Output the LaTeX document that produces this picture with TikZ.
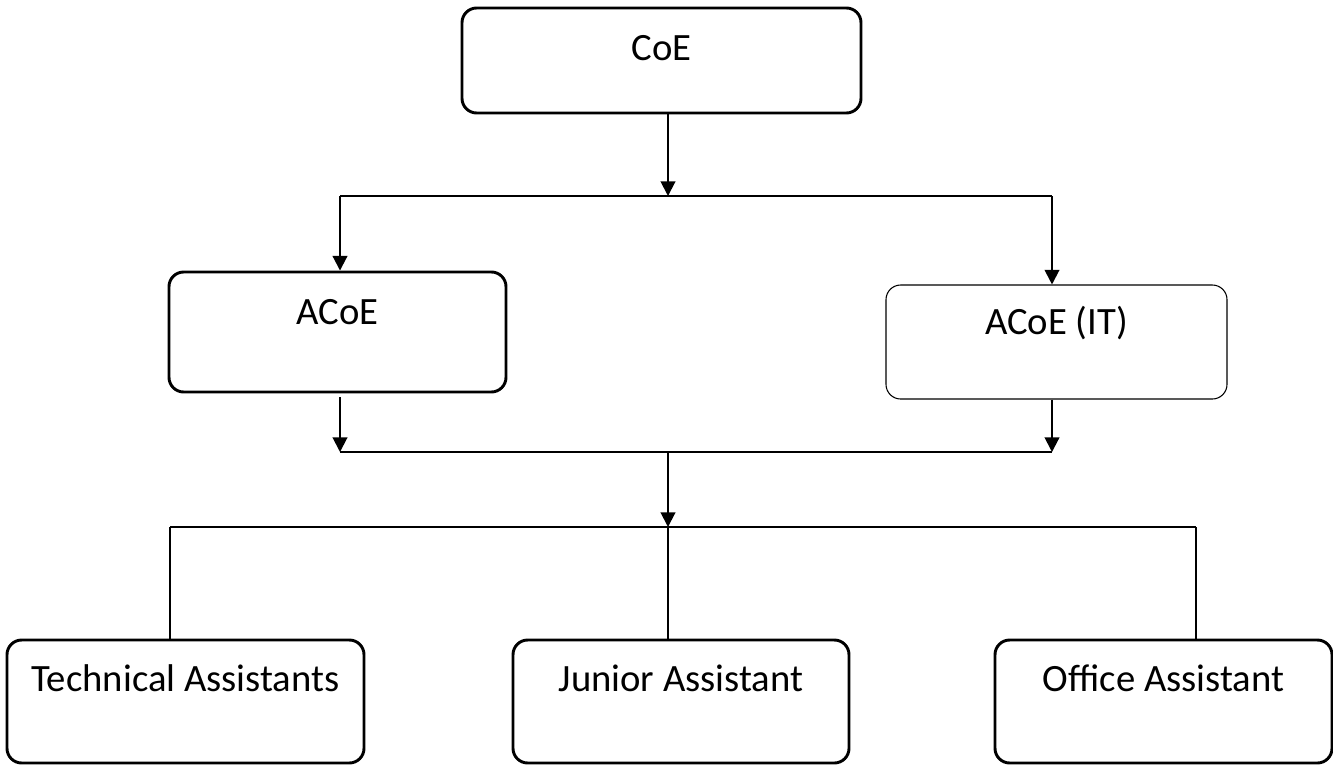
\documentclass[tikz,border=0pt]{standalone}
\usepackage{fontspec}
\setmainfont{Carlito}
\usetikzlibrary{arrows.meta}
\begin{document}
\begin{tikzpicture}[x=0.75pt,y=-0.75pt,
  box/.style={draw=black, line width=2.2pt, rounded corners=11pt, inner sep=0pt,
    font=\fontsize{29}{34}\selectfont, align=center},
  thinbox/.style={box, line width=0.8pt},
  toprow/.style={text height=39pt, text depth=39.75pt},
  midrow/.style={text height=39pt, text depth=51pt},
  itrow/.style={text height=36.75pt, text depth=48.75pt},
  botrow/.style={text height=38.25pt, text depth=54pt},
  arr/.style={line width=1.5pt, -{Triangle[width=11pt,length=11pt]}},
  ln/.style={line width=1.5pt},
  thinln/.style={line width=1.1pt}]
\useasboundingbox (0,0) rectangle (1333,764);

\node[box, toprow, minimum width=299.25pt] (coe) at (661.5,60.5) {CoE};
\node[box, midrow, minimum width=252.75pt] (acoe) at (337.5,332) {ACoE};
\node[thinbox, itrow, minimum width=255.75pt] (acoeit) at (1056.5,342) {ACoE (IT)};
\node[box, botrow, minimum width=267.75pt] (tech) at (185.5,701.5) {Technical Assistants};
\node[box, botrow, minimum width=252pt] (junior) at (681,701.5) {Junior Assistant};
\node[box, botrow, minimum width=252.75pt] (office) at (1163.5,701.5) {Office Assistant};

\coordinate (j1) at (668,196);
\coordinate (jl) at (340,196);
\coordinate (jr) at (1052,196);
\coordinate (k1) at (340,452);
\coordinate (k2) at (1052,452);
\coordinate (km) at (668,452);
\coordinate (b1) at (170,527);
\coordinate (bm) at (668,527);
\coordinate (b2) at (1196,527);
\coordinate (acoeout) at (340,397);

\draw[arr] (coe.south -| j1) -- (j1);
\draw[ln] (jl) -- (jr);
\draw[arr] (jl) -- (acoe.north -| jl);
\draw[arr] (jr) -- (acoeit.north -| jr);
\draw[arr] (acoeout) -- (k1);
\draw[arr] (acoeit.south -| k2) -- (k2);
\draw[ln] (k1) -- (k2);
\draw[arr] (km) -- (bm);
\draw[thinln] (b1) -- (b2);
\draw[thinln] (b1) -- (tech.north -| b1);
\draw[thinln] (bm) -- (junior.north -| bm);
\draw[thinln] (b2) -- (office.north -| b2);
\end{tikzpicture}
\end{document}
